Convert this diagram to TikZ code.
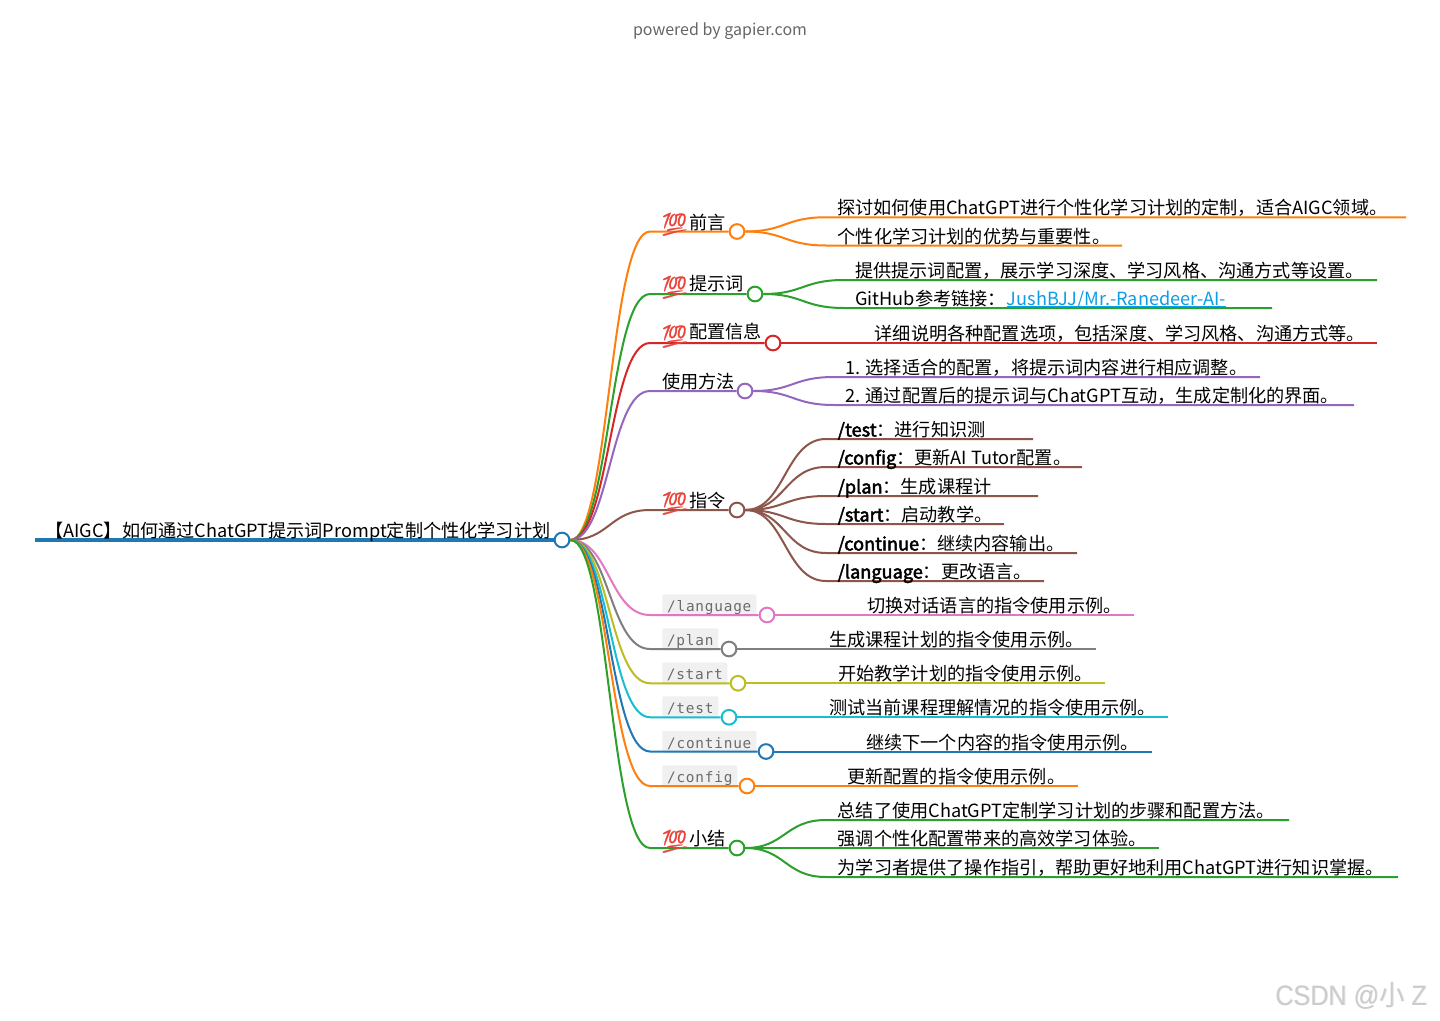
\documentclass[tikz,border=0pt]{standalone}
\usepackage{fontspec}
\setmainfont{Noto Sans CJK SC}
\newfontfamily\emojifont[FakeBold=1]{Noto Emoji}
\newfontfamily\codefont[LetterSpace=5.4]{DejaVu Sans Mono}
\newfontfamily\wmfont{Liberation Sans}
\newfontfamily\fbfont[FakeBold=2.5]{Noto Sans CJK SC}
\definecolor{cOrange}{HTML}{FF7F0E}
\definecolor{cGreen}{HTML}{2CA02C}
\definecolor{cRed}{HTML}{D62728}
\definecolor{cPurple}{HTML}{9467BD}
\definecolor{cBrown}{HTML}{8C564B}
\definecolor{cPink}{HTML}{E377C2}
\definecolor{cGray}{HTML}{7F7F7F}
\definecolor{cOlive}{HTML}{BCBD22}
\definecolor{cCyan}{HTML}{17BECF}
\definecolor{cBlue}{HTML}{1F77B4}
\definecolor{cLink}{HTML}{0D9DE8}
\definecolor{cEmoji}{HTML}{E8453C}
\tikzset{
  dot/.style={circle,fill=white,line width=1.5pt,minimum size=11pt,inner sep=0pt},
  linkline/.style={line width=1.5pt},
  txt/.style={anchor=base west,inner sep=0pt,font=\fontsize{13.62pt}{16pt}\selectfont,text=black},
  emoji/.style={anchor=base west,inner sep=0pt,font=\emojifont\fontsize{17pt}{19pt}\selectfont,text=cEmoji},
  codebox/.style={anchor=north west,fill=black!6,rounded corners=1.5pt,inner sep=0pt,text height=13pt,text depth=3.5pt,text=black!58,font=\fontsize{10.8pt}{13pt}\selectfont},
  wmark/.style={anchor=base west,inner sep=0pt,font=\wmfont\fontsize{21pt}{24pt}\selectfont},
}
% id, colour, y, dot x
\newcommand\branch[4]{%
  \node[dot,draw=#2] (#1) at (#4,#3) {};
  \coordinate (#1b) at (650,#3);
  \draw[linkline,#2] (rootdot.east) .. controls (609.5,540) and (609.5,#3) .. (#1b) -- (#1);
}
% id, parent, colour, y parent, y, bend x, end x, text x, text
\newcommand\leaf[9]{%
  \coordinate (#1a) at (#6+6,#5);
  \coordinate (#1e) at (#7,#5);
  \pgfmathsetmacro\ctrlx{#6-35}
  \draw[linkline,#3] (#2.east) .. controls (\ctrlx,#4) and (\ctrlx,#5) .. (#1a) -- (#1e);
  \node[txt] (#1t) at (#8,#5-2.5) {#9};
}
\newcommand\cent[2]{\node[emoji] (#1e) at (660,#2+1) {\symbol{"1F4AF}};}
\newcommand\codelabel[4]{% id, y, width px, text
  \node[codebox,minimum width=#3*0.75pt] (#1l) at (662,#2-21) {\codefont #4};
}
\newcommand\fb[1]{{\fbfont #1}}
\begin{document}
\begin{tikzpicture}[x=0.75pt,y=-0.75pt]
\useasboundingbox (0,0) rectangle (1440,1021);
\fill[white] (0,0) rectangle (1440,1021);
\node[anchor=base,inner sep=0pt,text=black!60,font=\fontsize{12pt}{15pt}\selectfont] (powered) at (720,35) {powered by gapier.com};
% root
\node[dot,draw=cBlue] (rootdot) at (562,540) {};
\coordinate (rootstart) at (35,540);
\draw[cBlue,line width=3pt] (rootstart) -- (rootdot);
\node[txt] (roott) at (45,537) {【AIGC】如何通过ChatGPT提示词Prompt定制个性化学习计划};
% code boxes
\codelabel{b6}{615}{94}{/language}
\codelabel{b7}{649}{56}{/plan}
\codelabel{b8}{683}{65}{/start}
\codelabel{b9}{717}{56}{/test}
\codelabel{b10}{751.5}{94}{/continue}
\codelabel{b11}{786}{75}{/config}
% branches
\branch{b1}{cOrange}{231.5}{737}
\branch{b2}{cGreen}{294}{755}
\branch{b3}{cRed}{343}{773}
\branch{b4}{cPurple}{391}{745}
\branch{b5}{cBrown}{510}{737}
\branch{b6}{cPink}{615}{767}
\branch{b7}{cGray}{649}{729}
\branch{b8}{cOlive}{683.25}{738}
\branch{b9}{cCyan}{717.25}{729}
\branch{b10}{cBlue}{751.5}{766}
\branch{b11}{cOrange}{786}{747}
\branch{b12}{cGreen}{848}{737}
% branch labels
\cent{b1}{231}\node[txt] (b1t) at (689,229.5) {前言};
\cent{b2}{294}\node[txt] (b2t) at (689,290.5) {提示词};
\cent{b3}{343}\node[txt] (b3t) at (689,338.5) {配置信息};
\node[txt] (b4t) at (662,388) {使用方法};
\cent{b5}{510}\node[txt] (b5t) at (689,507) {指令};
\cent{b12}{848}\node[txt] (b12t) at (689,845) {小结};
% leaves
\leaf{l1a}{b1}{cOrange}{231.5}{217.25}{820}{1406}{837}{探讨如何使用ChatGPT进行个性化学习计划的定制，适合AIGC领域。}
\leaf{l1b}{b1}{cOrange}{231.5}{245.5}{820}{1122}{837.5}{个性化学习计划的优势与重要性。}
\leaf{l2a}{b2}{cGreen}{294}{280}{838}{1377}{855}{提供提示词配置，展示学习深度、学习风格、沟通方式等设置。}
\leaf{l2b}{b2}{cGreen}{294}{308}{838}{1272}{855}{GitHub参考链接：}
\node[txt,text=cLink] (linkt) at (1006.5,305.5) {JushBJJ/Mr.-Ranedeer-AI-};
\draw[cLink,line width=1pt] ([yshift=-0.6pt]linkt.base west) -- ([yshift=-0.6pt]linkt.base east);
\leaf{l3a}{b3}{cRed}{343}{343}{856}{1377}{874.5}{详细说明各种配置选项，包括深度、学习风格、沟通方式等。}
\leaf{l4a}{b4}{cPurple}{391}{377}{828}{1260}{845}{1. 选择适合的配置，将提示词内容进行相应调整。}
\leaf{l4b}{b4}{cPurple}{391}{405}{828}{1354}{845}{2. 通过配置后的提示词与ChatGPT互动，生成定制化的界面。}
\leaf{l5a}{b5}{cBrown}{510}{439}{820}{1033}{837.5}{\fb{/test}：进行知识测}
\leaf{l5b}{b5}{cBrown}{510}{467}{820}{1082}{837.5}{\fb{/config}：更新AI Tutor配置。}
\leaf{l5c}{b5}{cBrown}{510}{496}{820}{1038}{837.5}{\fb{/plan}：生成课程计}
\leaf{l5d}{b5}{cBrown}{510}{524}{820}{1004}{837.5}{\fb{/start}：启动教学。}
\leaf{l5e}{b5}{cBrown}{510}{553}{820}{1077}{837.5}{\fb{/continue}：继续内容输出。}
\leaf{l5f}{b5}{cBrown}{510}{581}{820}{1044}{837.5}{\fb{/language}：更改语言。}
\leaf{l6a}{b6}{cPink}{615}{615}{850}{1134}{867}{切换对话语言的指令使用示例。}
\leaf{l7a}{b7}{cGray}{649}{649}{812}{1096}{829}{生成课程计划的指令使用示例。}
\leaf{l8a}{b8}{cOlive}{683.25}{683.25}{821}{1105}{838}{开始教学计划的指令使用示例。}
\leaf{l9a}{b9}{cCyan}{717.25}{717.25}{812}{1168}{829}{测试当前课程理解情况的指令使用示例。}
\leaf{l10a}{b10}{cBlue}{751.5}{751.5}{849}{1152}{866}{继续下一个内容的指令使用示例。}
\leaf{l11a}{b11}{cOrange}{786}{786}{830}{1078}{847}{更新配置的指令使用示例。}
\leaf{l12a}{b12}{cGreen}{848}{820}{820}{1289}{837.5}{总结了使用ChatGPT定制学习计划的步骤和配置方法。}
\leaf{l12b}{b12}{cGreen}{848}{848}{820}{1159}{837.5}{强调个性化配置带来的高效学习体验。}
\leaf{l12c}{b12}{cGreen}{848}{877}{820}{1398}{837.5}{为学习者提供了操作指引，帮助更好地利用ChatGPT进行知识掌握。}
% watermark
\node[wmark,text=black!10] (wm2) at (1275.8,1005.8) {\scalebox{0.9}[1]{CSDN @{\rmfamily 小} Z}};
\node[wmark,text=black!20] (wm) at (1275,1005) {\scalebox{0.9}[1]{CSDN @{\rmfamily 小} Z}};
\end{tikzpicture}
\end{document}
